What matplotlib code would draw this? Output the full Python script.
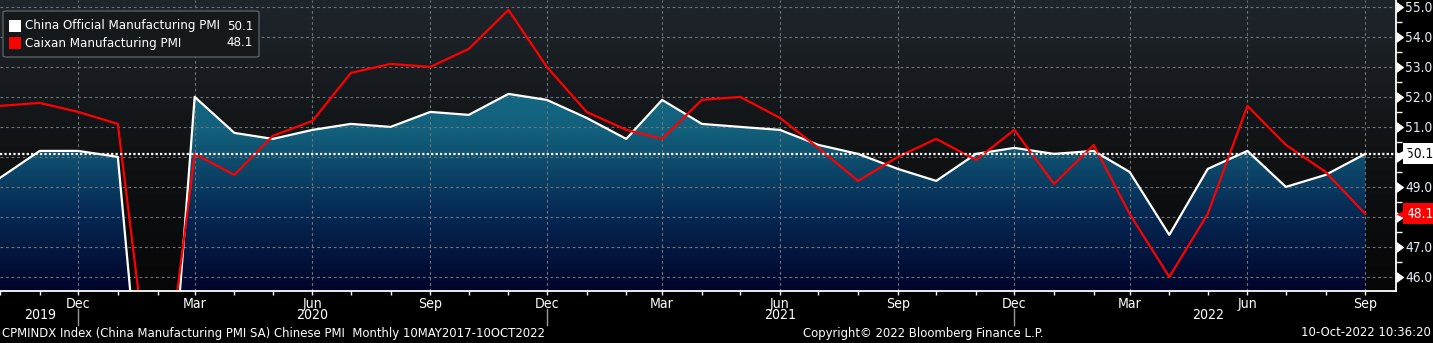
import numpy as np
import pandas as pd
import matplotlib.pyplot as plt
import matplotlib.dates as mdates
import matplotlib.transforms as mtransforms
from matplotlib import font_manager
from matplotlib.colors import LinearSegmentedColormap
from matplotlib.patches import FancyBboxPatch, Rectangle

# data (monthly, Oct 2019 - Sep 2022)
months = pd.date_range('2019-10-01', '2022-09-01', freq='MS')
official = [49.3, 50.2, 50.2, 50.0, 35.7, 52.0, 50.8, 50.6, 50.9, 51.1, 51.0, 51.5,
            51.4, 52.1, 51.9, 51.3, 50.6, 51.9, 51.1, 51.0, 50.9, 50.4, 50.1, 49.6,
            49.2, 50.1, 50.3, 50.1, 50.2, 49.5, 47.4, 49.6, 50.2, 49.0, 49.4, 50.1]
caixin = [51.7, 51.8, 51.5, 51.1, 40.3, 50.1, 49.4, 50.7, 51.2, 52.8, 53.1, 53.0,
          53.6, 54.9, 53.0, 51.5, 50.9, 50.6, 51.9, 52.0, 51.3, 50.3, 49.2, 50.0,
          50.6, 49.9, 50.9, 49.1, 50.4, 48.1, 46.0, 48.1, 51.7, 50.4, 49.5, 48.1]
names = ['China Official Manufacturing PMI', 'Caixan Manufacturing PMI']
year_labels = ['2019', '2020', '2021', '2022']
year_pos = ['2019-11-01', '2020-06-01', '2021-06-01', '2022-05-01']
year_breaks = ['2019-12-01', '2020-12-01', '2021-12-01']
footer = 'CPMINDX Index (China Manufacturing PMI SA) Chinese PMI  Monthly 10MAY2017-10OCT2022'

# pick a narrow font if one exists
font, stretch = 'Liberation Sans', 'normal'
for f in font_manager.fontManager.ttflist:
    if 'Narrow' in f.name or 'Condensed' in f.name or f.stretch in ('condensed', 'semi-condensed'):
        if 'Mono' not in f.name and 'Serif' not in f.name:
            font, stretch = f.name, f.stretch
            break
plt.rcParams['font.family'] = [font, 'DejaVu Sans']
plt.rcParams['font.stretch'] = stretch

W, H = 1433, 343
fig = plt.figure(figsize=(W / 100, H / 100), dpi=100, facecolor='black')

# size the font so the footer is as wide as in the reference (543 px)
probe = fig.text(0, 0, footer, fontsize=10)
fig.canvas.draw()
fs = 10 * 543 / probe.get_window_extent().width
probe.remove()

ax = fig.add_axes([0, 1 - 291 / H, 1396 / W, 291 / H])
ax.set_facecolor('black')

x0 = mdates.date2num(months[0])
x1 = mdates.date2num(pd.Timestamp('2022-09-25'))
y0, y1 = 45.53, 55.23

# background gradient
bg = LinearSegmentedColormap.from_list('bg', ['#070707', '#111315', '#1f262c'])
ax.imshow(np.linspace(0, 1, 256).reshape(-1, 1), cmap=bg, origin='lower', aspect='auto',
          extent=[0, 1, 0, 1], transform=ax.transAxes, zorder=0)

# area under official PMI
fc = LinearSegmentedColormap.from_list('fc', ['#01042a', '#062a55', '#12607b', '#15708c'])
img = ax.imshow(np.linspace(0, 1, 256).reshape(-1, 1), cmap=fc, origin='lower', aspect='auto',
                extent=[x0, x1, 45.5, 53.5], zorder=1)
poly = ax.fill_between(months, official, 30, facecolor='none', edgecolor='none')
img.set_clip_path(poly.get_paths()[0], transform=ax.transData)

ax.plot(months, official, color='white', lw=1.6, zorder=4)
ax.plot(months, caixin, color='#ff0000', lw=1.6, zorder=5)
ax.axhline(official[-1], color='white', lw=1.6, ls=(0, (1, 1)), zorder=6)

ax.set_xlim(x0, x1)
ax.set_ylim(y0, y1)

# ticks and grid
badge_vals = [official[-1], caixin[-1]]

def ylab(v, pos):
    # labels hidden behind the last-value badges
    if any(abs(v - b) < 0.5 for b in badge_vals):
        return ''
    return f'{v:.1f}'

ax.xaxis.set_major_locator(mdates.MonthLocator(bymonth=[3, 6, 9, 12]))
ax.xaxis.set_minor_locator(mdates.MonthLocator())
ax.xaxis.set_major_formatter(mdates.DateFormatter('%b'))
ax.yaxis.set_major_locator(plt.MultipleLocator(1))
ax.yaxis.set_minor_locator(plt.MultipleLocator(0.5))
ax.yaxis.set_major_formatter(plt.FuncFormatter(ylab))
ax.grid(True, which='major', color='#6c737b', lw=0.8, ls=(0, (2.5, 2.5)), zorder=2)
ax.set_axisbelow(False)

for s in ['top', 'left']:
    ax.spines[s].set_visible(False)
for s in ['bottom', 'right']:
    ax.spines[s].set_color('white')
    ax.spines[s].set_linewidth(1.3)
    ax.spines[s].set_zorder(7)

ax.yaxis.tick_right()
ax.tick_params(axis='x', which='both', colors='white', length=3, width=1, direction='out',
               labelsize=fs * 1.08, pad=1)
ax.tick_params(axis='y', which='minor', colors='white', length=4, width=1)
ax.tick_params(axis='y', which='major', colors='white', labelsize=fs * 1.05, pad=3,
               labelcolor='#e4ecf4')
for t in ax.yaxis.get_major_ticks():
    t.tick2line.set_marker(9)
    t.tick2line.set_markersize(7)

# year labels and separators
tr = mtransforms.blended_transform_factory(ax.transData, ax.transAxes)
for lab, d in zip(year_labels, year_pos):
    ax.text(pd.Timestamp(d), -24 / 291, lab, transform=tr, ha='center', va='center',
            color='white', fontsize=fs * 1.08, clip_on=False)
for d in year_breaks:
    ax.plot([pd.Timestamp(d)] * 2, [-18 / 291, -34 / 291], transform=tr, color='#9a9a9a',
            lw=1, clip_on=False)

# value badges on the right axis
tr2 = mtransforms.blended_transform_factory(ax.transAxes, ax.transData)
for val, bgc, txc in [(official[-1], 'white', 'black'), (caixin[-1], '#ff0000', 'white')]:
    ax.text(1 + 10 / 1396, val, f'{val:.1f}', transform=tr2, ha='left', va='center',
            color=txc, fontsize=fs * 1.05, clip_on=False, zorder=10,
            bbox=dict(boxstyle='square,pad=0.25', fc=bgc, ec='none'))
    ax.plot([1 + 6 / 1396], [val], transform=tr2, marker='<', ms=9, color=bgc,
            mec='none', clip_on=False, zorder=10)

# legend
def fx(x):
    return x / W

def fy(y):
    return 1 - y / H

fig.patches.append(FancyBboxPatch((fx(3), fy(57)), fx(256), 46 / H,
                                  boxstyle='round,pad=0,rounding_size=0.003',
                                  transform=fig.transFigure, fc='#16191c', ec='#5a5e63', lw=1,
                                  zorder=20))
for i, (nm, val, c) in enumerate(zip(names, badge_vals, ['white', '#ff0000'])):
    yc = 26 + 17 * i
    fig.patches.append(Rectangle((fx(9), fy(yc + 6)), fx(12), 12 / H, transform=fig.transFigure,
                                 fc=c, ec='none', zorder=21))
    fig.text(fx(25), fy(yc), nm, color='white', fontsize=fs * 1.02, va='center', ha='left', zorder=22)
    fig.text(fx(253), fy(yc), f'{val:.1f}', color='white', fontsize=fs * 1.02, va='center',
             ha='right', zorder=22)

# footer
fig.text(fx(2), fy(333), footer, color='white', fontsize=fs, va='center', ha='left')
fig.text(fx(803), fy(333), 'Copyright\u00a9 2022 Bloomberg Finance L.P.', color='white',
         fontsize=fs, va='center', ha='left')
fig.text(fx(1431), fy(333), '10-Oct-2022 10:36:20', color='white', fontsize=fs,
         va='center', ha='right')

fig.savefig('out.png', dpi=100, facecolor='black')
